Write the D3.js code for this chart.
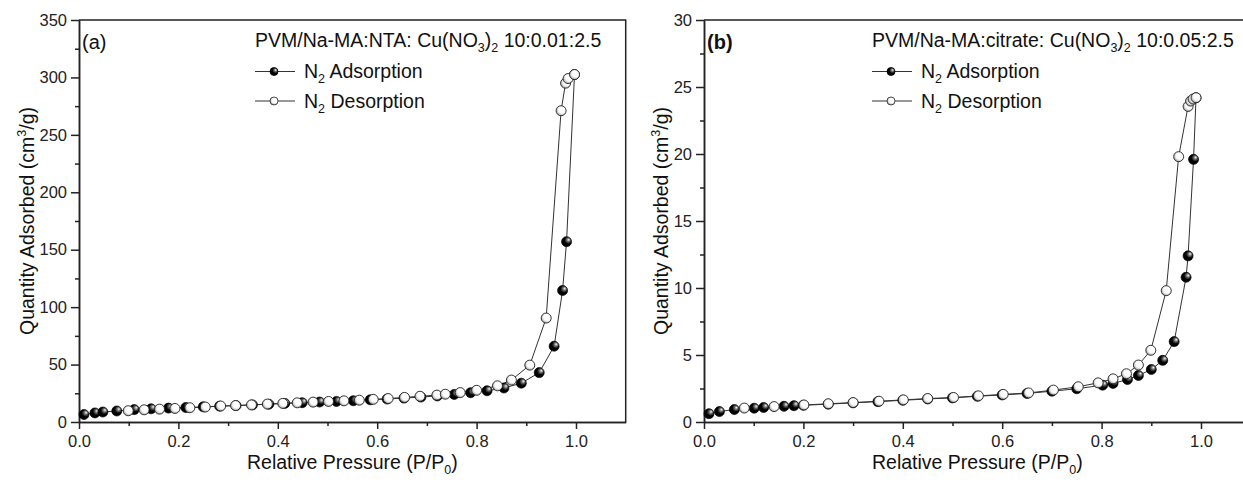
<!DOCTYPE html>
<html lang="en">
<head>
<meta charset="utf-8">
<title>N2 isotherms</title>
<script src="https://cdn.jsdelivr.net/npm/d3@7"></script>
<style>
    body { margin: 0; background: #fff; }
    svg { display: block; font-family: "Liberation Sans", Arial, sans-serif; }
    .axis path, .axis line { stroke: #222; stroke-width: 1.5; }
    .axis text { fill: #222; font-size: 16.5px; font-family: "Liberation Sans", Arial, sans-serif; }
</style>
</head>
<body>
<svg id="chart" width="1243" height="484"></svg>
<script>
// panel (a): PVM/Na-MA:NTA
const pAdsA = [0.010, 0.032, 0.048, 0.076, 0.111, 0.145, 0.180, 0.215, 0.250, 0.283, 0.316, 0.349,
    0.382, 0.414, 0.449, 0.484, 0.518, 0.552, 0.586, 0.620, 0.654, 0.688, 0.721, 0.755, 0.788,
    0.821, 0.855, 0.890, 0.926, 0.956, 0.973, 0.981, 0.997];
const qAdsA = [6.5, 7.9, 8.7, 9.6, 10.8, 11.5, 12.1, 12.6, 13.2, 13.8, 14.3, 14.9,
    15.5, 16.2, 16.8, 17.4, 17.9, 18.5, 19.3, 20.0, 20.8, 21.7, 22.7, 24.0, 25.5,
    27.2, 29.6, 33.8, 43.0, 66.0, 114.5, 157.0, 302.5];
const pDesA = [0.099, 0.131, 0.162, 0.193, 0.223, 0.254, 0.285, 0.315, 0.347, 0.379, 0.410, 0.439,
    0.471, 0.502, 0.533, 0.564, 0.592, 0.622, 0.655, 0.686, 0.720, 0.737, 0.767, 0.800,
    0.842, 0.870, 0.907, 0.940, 0.970, 0.979, 0.984, 0.997];
const qDesA = [9.8, 10.6, 11.2, 11.8, 12.4, 13.0, 13.9, 14.3, 14.9, 15.6, 16.2, 16.7,
    17.3, 17.9, 18.4, 19.0, 19.7, 20.4, 21.4, 22.4, 23.4, 24.2, 25.6, 27.6,
    31.5, 36.5, 49.5, 90.5, 271, 295, 299, 302.5];

// panel (b): PVM/Na-MA:citrate
const pAdsB = [0.010, 0.031, 0.061, 0.101, 0.120, 0.161, 0.181, 0.200, 0.250, 0.300, 0.350, 0.400,
    0.450, 0.500, 0.550, 0.600, 0.650, 0.700, 0.750, 0.802, 0.823, 0.852, 0.874, 0.900,
    0.923, 0.946, 0.970, 0.974, 0.985, 0.990];
const qAdsB = [0.62, 0.78, 0.93, 1.03, 1.08, 1.17, 1.22, 1.25, 1.33, 1.43, 1.52, 1.62,
    1.72, 1.80, 1.92, 2.02, 2.13, 2.30, 2.48, 2.75, 2.88, 3.17, 3.47, 3.92,
    4.60, 6.0, 10.8, 12.4, 19.6, 24.2];
const pDesB = [0.081, 0.141, 0.201, 0.250, 0.300, 0.352, 0.401, 0.450, 0.502, 0.552, 0.602, 0.653,
    0.703, 0.753, 0.793, 0.823, 0.850, 0.874, 0.899, 0.930, 0.955, 0.974, 0.979, 0.984, 0.990];
const qDesB = [1.04, 1.15, 1.27, 1.36, 1.45, 1.55, 1.65, 1.75, 1.83, 1.95, 2.06, 2.17,
    2.38, 2.63, 2.92, 3.22, 3.60, 4.25, 5.35, 9.8, 19.8, 23.55, 23.95, 24.1, 24.2];

const xTicks = [0, 0.2, 0.4, 0.6, 0.8, 1.0];
const yTicksA = [0, 50, 100, 150, 200, 250, 300, 350];
const yTicksB = [0, 5, 10, 15, 20, 25, 30];

const svg = d3.select('#chart');
const defs = svg.append('defs');

let g1 = defs.append('radialGradient').attr('id', 'gAds')
    .attr('cx', '0.62').attr('cy', '0.38').attr('r', '0.62').attr('fx', '0.72').attr('fy', '0.3');
g1.append('stop').attr('offset', '0%').attr('stop-color', '#f4f4f4');
g1.append('stop').attr('offset', '30%').attr('stop-color', '#666');
g1.append('stop').attr('offset', '60%').attr('stop-color', '#000');

let g2 = defs.append('radialGradient').attr('id', 'gDes')
    .attr('cx', '0.6').attr('cy', '0.4').attr('r', '0.65');
g2.append('stop').attr('offset', '0%').attr('stop-color', '#fff');
g2.append('stop').attr('offset', '55%').attr('stop-color', '#fafafa');
g2.append('stop').attr('offset', '100%').attr('stop-color', '#9a9a9a');

const FS = 19.5, SUB = 12.5;

function zip(px, qy) {
    return px.map((p, i) => ({p: p, q: qy[i]}));
}

function drawPanel(cfg) {
    const x = d3.scaleLinear().domain([0, 1.1]).range([cfg.left, cfg.left + 546.7]);
    const y = d3.scaleLinear().domain([0, cfg.yMax]).range([422, 20]);
    const g = svg.append('g');

    // minor ticks first, majors on top
    g.append('g').attr('class', 'axis').attr('transform', 'translate(0,422)')
        .call(d3.axisBottom(x).tickValues(d3.range(0.1, 1.1, 0.2)).tickSize(4).tickFormat('').tickSizeOuter(0));
    g.append('g').attr('class', 'axis').attr('transform', 'translate(' + cfg.left + ',0)')
        .call(d3.axisLeft(y).tickValues(cfg.yMinor).tickSize(4).tickFormat('').tickSizeOuter(0));
    g.append('g').attr('class', 'axis').attr('transform', 'translate(0,422)')
        .call(d3.axisBottom(x).tickValues(xTicks).tickSize(7).tickPadding(6)
            .tickFormat(d3.format('.1f')).tickSizeOuter(0));
    g.append('g').attr('class', 'axis').attr('transform', 'translate(' + cfg.left + ',0)')
        .call(d3.axisLeft(y).tickValues(cfg.yTicks).tickSize(8).tickPadding(4).tickSizeOuter(0));

    // frame top + right
    g.append('path')
        .attr('d', 'M' + x(0) + ',' + y(cfg.yMax) + 'H' + x(1.1) + 'V' + y(0))
        .attr('fill', 'none').attr('stroke', '#222').attr('stroke-width', 1.5);

    const line = d3.line().x(d => x(d.p)).y(d => y(d.q));
    const ads = zip(cfg.pAds, cfg.qAds), des = zip(cfg.pDes, cfg.qDes);

    g.append('path').datum(ads).attr('d', line)
        .attr('fill', 'none').attr('stroke', '#333').attr('stroke-width', 1);
    g.append('path').datum(des).attr('d', line)
        .attr('fill', 'none').attr('stroke', '#333').attr('stroke-width', 1);

    g.selectAll('.ads').data(ads).join('circle').attr('class', 'ads')
        .attr('cx', d => x(d.p)).attr('cy', d => y(d.q)).attr('r', 5)
        .attr('fill', 'url(#gAds)').attr('stroke', '#000').attr('stroke-width', 0.7);
    g.selectAll('.des').data(des).join('circle').attr('class', 'des')
        .attr('cx', d => x(d.p)).attr('cy', d => y(d.q)).attr('r', 5)
        .attr('fill', 'url(#gDes)').attr('stroke', '#222').attr('stroke-width', 0.9);

    // panel label
    g.append('text').attr('x', cfg.left + 3).attr('y', 49)
        .attr('font-size', 20).attr('font-weight', cfg.labelWeight).attr('fill', '#111')
        .text(cfg.label);

    // sample title with subscripts
    const t = g.append('text').attr('x', cfg.legX).attr('y', 47).attr('font-size', FS).attr('fill', '#111');
    t.append('tspan').text(cfg.sample + ': Cu(NO');
    t.append('tspan').attr('font-size', SUB).attr('dy', 5).text('3');
    t.append('tspan').attr('dy', -5).text(')');
    t.append('tspan').attr('font-size', SUB).attr('dy', 5).text('2');
    t.append('tspan').attr('dy', -5).text(' ' + cfg.ratio);

    // legend
    [['Adsorption', 'url(#gAds)', '#000', 78], ['Desorption', 'url(#gDes)', '#222', 107.5]].forEach(r => {
        const ly = r[3] - 6.5;
        g.append('line').attr('x1', cfg.legX).attr('x2', cfg.legX + 40).attr('y1', ly).attr('y2', ly)
            .attr('stroke', '#333').attr('stroke-width', 1);
        g.append('circle').attr('cx', cfg.legX + 19).attr('cy', ly).attr('r', 4)
            .attr('fill', r[1]).attr('stroke', r[2]).attr('stroke-width', 0.8);
        const lt = g.append('text').attr('x', cfg.legX + 49).attr('y', r[3]).attr('font-size', FS).attr('fill', '#111');
        lt.append('tspan').text('N');
        lt.append('tspan').attr('font-size', SUB).attr('dy', 5).text('2');
        lt.append('tspan').attr('dy', -5).text(' ' + r[0]);
    });

    // axis titles
    const xt = g.append('text').attr('x', (x(0) + x(1.1)) / 2).attr('y', 469)
        .attr('text-anchor', 'middle').attr('font-size', FS).attr('fill', '#111');
    xt.append('tspan').text('Relative Pressure (P/P');
    xt.append('tspan').attr('font-size', SUB).attr('dy', 5).text('0');
    xt.append('tspan').attr('dy', -5).text(')');

    const yt = g.append('text')
        .attr('transform', 'translate(' + cfg.yTitleX + ',221) rotate(-90)')
        .attr('text-anchor', 'middle').attr('font-size', FS).attr('fill', '#111');
    yt.append('tspan').text('Quantity Adsorbed (cm');
    yt.append('tspan').attr('font-size', SUB).attr('dy', -8).text('3');
    yt.append('tspan').attr('dy', 8).text('/g)');
}

drawPanel({
    left: 79, yMax: 350, yTicks: yTicksA, yMinor: d3.range(25, 350, 50),
    pAds: pAdsA, qAds: qAdsA, pDes: pDesA, qDes: qDesA,
    label: '(a)', labelWeight: 'normal', legX: 255, yTitleX: 34,
    sample: 'PVM/Na-MA:NTA', ratio: '10:0.01:2.5'
});
drawPanel({
    left: 704, yMax: 30, yTicks: yTicksB, yMinor: d3.range(2.5, 30, 5),
    pAds: pAdsB, qAds: qAdsB, pDes: pDesB, qDes: qDesB,
    label: '(b)', labelWeight: 'bold', legX: 872, yTitleX: 668,
    sample: 'PVM/Na-MA:citrate', ratio: '10:0.05:2.5'
});
</script>
</body>
</html>
